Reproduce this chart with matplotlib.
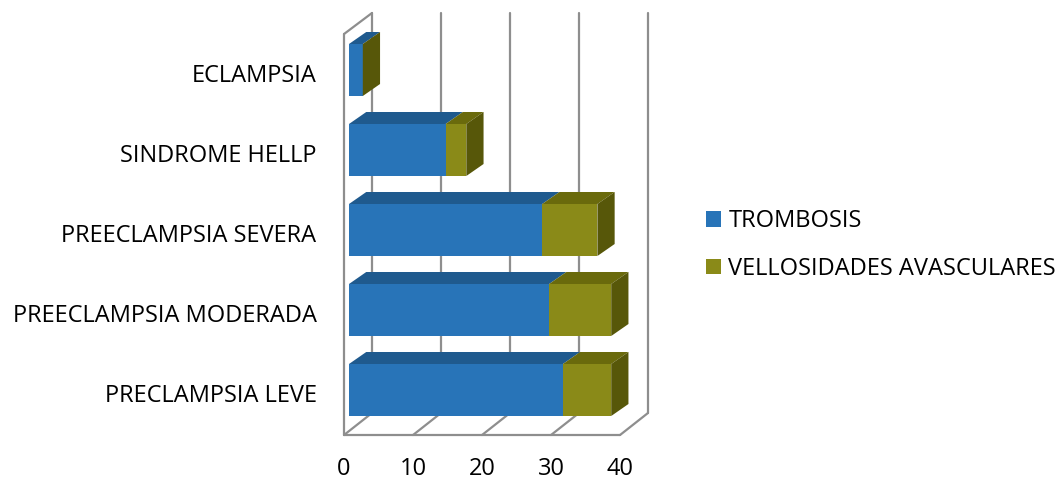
import matplotlib.pyplot as plt
from matplotlib.patches import Polygon

# Datos
categorias = ["PRECLAMPSIA LEVE", "PREECLAMPSIA MODERADA", "PREECLAMPSIA SEVERA",
              "SINDROME HELLP", "ECLAMPSIA"]
trombosis = [31, 29, 28, 14, 2]
vellosidades = [7, 9, 8, 3, 0]
ticks = [0, 10, 20, 30, 40]

plt.rcParams['font.family'] = ['Open Sans', 'DejaVu Sans']

azul = "#2874B8"
azul_top = "#1F5A8E"
verde = "#8A8A18"
verde_top = "#6A6A0C"
verde_side = "#575709"
gris = "#8E8E8E"
fs = 17

fig = plt.figure(figsize=(10.58, 4.8), dpi=100)
ax = fig.add_axes([0, 0, 1, 1])
# escala: 6.9 px por unidad en x, 80 px por categoria en y
ax.set_xlim(-349 / 6.9, (1058 - 349) / 6.9)
ax.set_ylim((390 - 480) / 80, 390 / 80)
ax.set_axis_off()

# caja 3D: pared del fondo, suelo y pared izquierda
fx, fy = -0.72, -0.5625      # plano frontal
bx, by = 3.33, -0.2875       # plano del fondo
top = 4.7125
kw = dict(color=gris, lw=1.6, zorder=1, solid_capstyle='round')
for t in ticks:
    ax.plot([bx + t, bx + t], [by, top], **kw)
    ax.plot([fx + t, bx + t], [fy, by], **kw)
ax.plot([fx, fx + 40], [fy, fy], **kw)
ax.plot([fx, fx], [fy, 4.45], **kw)
ax.plot([fx, bx], [4.45, top], **kw)

# barras apiladas con caras superior y lateral
y = range(len(categorias))
h = 0.65
ddx, ddy = 2.5, 0.15
ax.barh(y, trombosis, height=h, color=azul, label="TROMBOSIS", zorder=3)
ax.barh(y, vellosidades, left=trombosis, height=h, color=verde,
        label="VELLOSIDADES AVASCULARES", zorder=3)
for i in y:
    t0 = trombosis[i]
    t1 = t0 + vellosidades[i]
    yt = i + h / 2
    yb = i - h / 2
    ax.add_patch(Polygon([(0, yt), (t0, yt), (t0 + ddx, yt + ddy), (ddx, yt + ddy)],
                         closed=True, fc=azul_top, ec='none', zorder=3))
    if t1 > t0:
        ax.add_patch(Polygon([(t0, yt), (t1, yt), (t1 + ddx, yt + ddy), (t0 + ddx, yt + ddy)],
                             closed=True, fc=verde_top, ec='none', zorder=3))
    ax.add_patch(Polygon([(t1, yb), (t1, yt), (t1 + ddx, yt + ddy), (t1 + ddx, yb + ddy)],
                         closed=True, fc=verde_side, ec='none', zorder=3))

# etiquetas
for i, c in enumerate(categorias):
    ax.text(-4.7, i - 0.075, c, ha='right', va='center', fontsize=fs, color='black')
for t in ticks:
    ax.text(fx + t, -0.985, str(t), ha='center', va='center', fontsize=fs, color='black')

ax.legend(loc='center left', bbox_to_anchor=(697 / 1058, 1 - 245 / 480), frameon=False,
          fontsize=fs, handlelength=0.63, handleheight=0.63, handletextpad=0.3,
          labelspacing=1.0, borderaxespad=0)

fig.savefig("out.png", dpi=100, facecolor='white')
